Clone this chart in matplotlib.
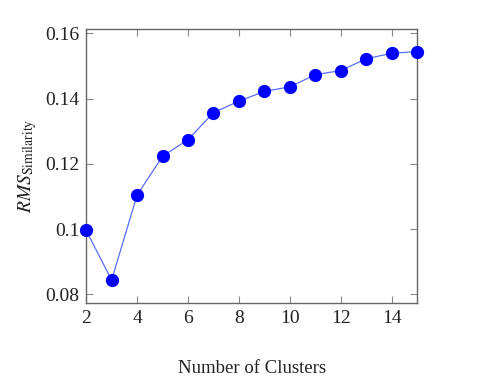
import matplotlib
matplotlib.use("Agg")
import matplotlib.pyplot as plt

# cluster counts and RMS similarity
clusters = [2, 3, 4, 5, 6, 7, 8, 9, 10, 11, 12, 13, 14, 15]
rms_similarity = [0.0996, 0.0843, 0.1104, 0.1223, 0.1274, 0.1357, 0.1392,
                  0.1422, 0.1436, 0.1473, 0.1486, 0.1522, 0.1539, 0.1544]
x_ticks = [2, 4, 6, 8, 10, 12, 14]
y_ticks = [0.08, 0.10, 0.12, 0.14, 0.16]
y_tick_labels = ['0.08', '0.1', '0.12', '0.14', '0.16']

plt.rcParams['font.family'] = ['Liberation Serif', 'DejaVu Serif']
plt.rcParams['mathtext.fontset'] = 'stix'

fig = plt.figure(figsize=(4.84, 3.88), dpi=100)
ax = fig.add_axes([0.178, 0.219, 0.684, 0.706])

ax.plot(clusters, rms_similarity, color='#5a6cff', linewidth=0.9, zorder=2)
ax.plot(clusters, rms_similarity, linestyle='none', marker='o', markersize=8.5,
        color='#0000ff', zorder=3, clip_on=False)

ax.set_xlim(2, 15)
ax.set_ylim(0.0773, 0.1613)
ax.set_xticks(x_ticks)
ax.set_yticks(y_ticks)
ax.set_yticklabels(y_tick_labels)

frame_color = '#666666'
for s in ax.spines.values():
    s.set_color(frame_color)
    s.set_linewidth(1.0)
ax.tick_params(direction='in', length=5, width=0.8, color='#888888',
               top=True, right=True, labelsize=14, labelcolor='#222222', pad=5)

ax.set_xlabel('Number of Clusters', fontsize=13.5, labelpad=24, color='#222222')
ax.set_ylabel(r'$RMS_{\mathrm{Similarity}}$', fontsize=14, labelpad=4, color='#222222')

fig.savefig('out.png', dpi=100)
